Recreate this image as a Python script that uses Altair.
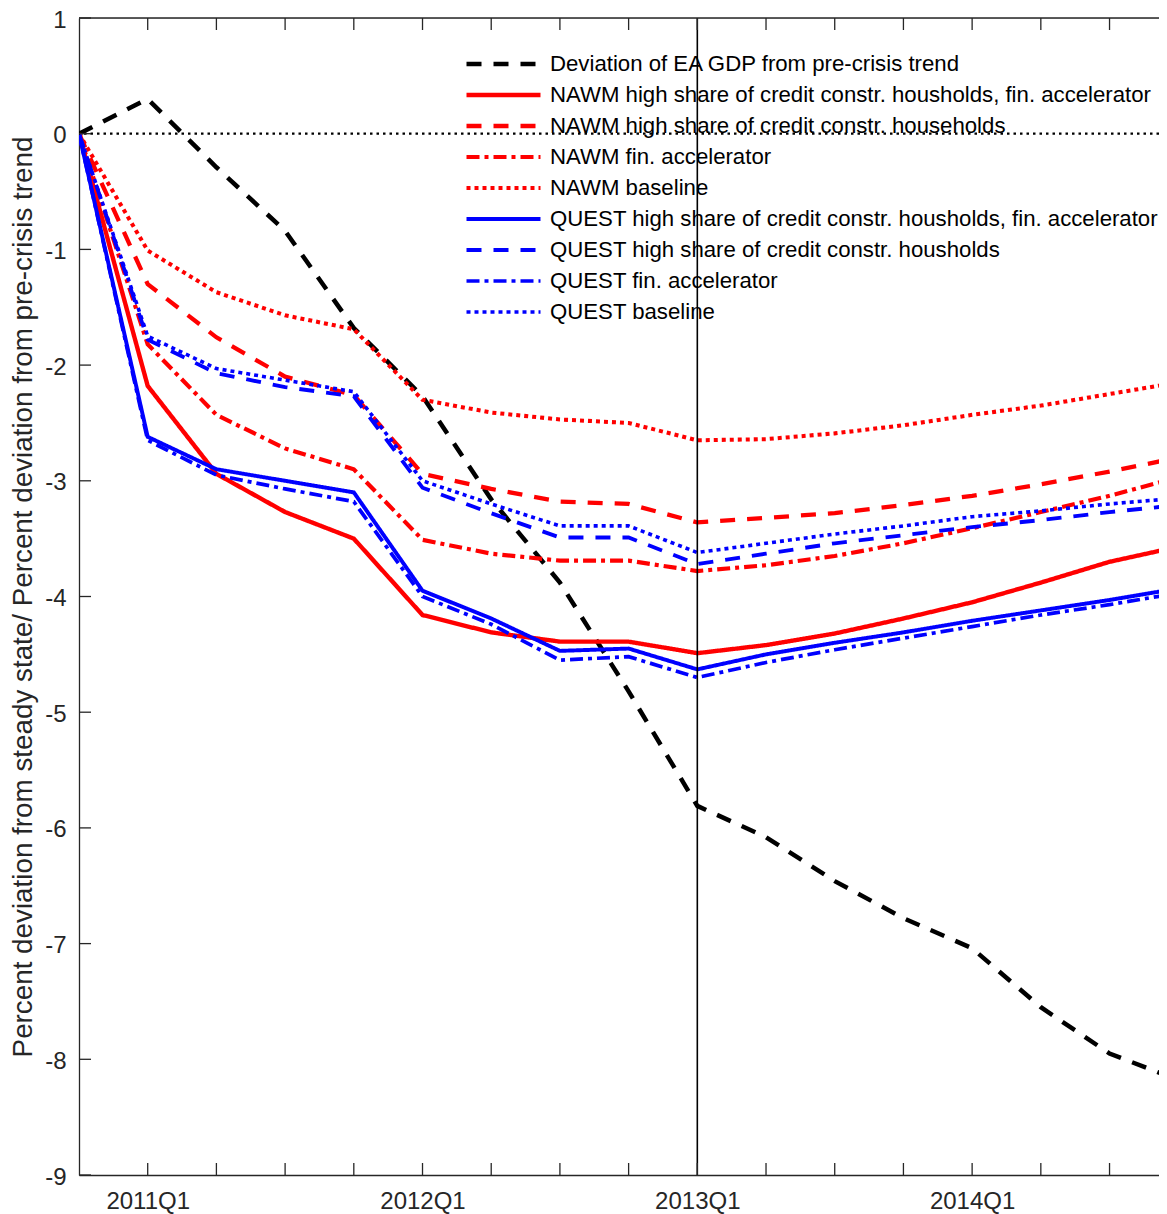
import altair as alt
import pandas as pd

# ---------------- data ----------------
quarters = list(range(17))  # 0 = 2010Q4 ... 16 = 2014Q4
label_pos = [1, 5, 9, 13]
label_text = ["2011Q1", "2012Q1", "2013Q1", "2014Q1"]
x_ticks = list(range(1, 16))
y_ticks = list(range(-9, 2))
vline_q = [9]
zero_v = [0]

series_names = [
    "Deviation of EA GDP from pre-crisis trend",
    "NAWM high share of credit constr. housholds, fin. accelerator",
    "NAWM high share of credit constr. households",
    "NAWM fin. accelerator",
    "NAWM baseline",
    "QUEST high share of credit constr. housholds, fin. accelerator",
    "QUEST high share of credit constr. housholds",
    "QUEST fin. accelerator",
    "QUEST baseline",
]

gdp_dev = [0, 0.30, -0.29, -0.84, -1.68, -2.27, -3.16, -3.88, -4.82, -5.81, -6.08, -6.46, -6.78, -7.04, -7.55, -7.95, -8.18]
nawm_high_fa = [0, -2.18, -2.94, -3.27, -3.50, -4.16, -4.31, -4.39, -4.39, -4.49, -4.42, -4.32, -4.19, -4.05, -3.88, -3.70, -3.57]
nawm_high = [0, -1.30, -1.76, -2.10, -2.26, -2.94, -3.07, -3.18, -3.20, -3.36, -3.32, -3.28, -3.21, -3.13, -3.03, -2.92, -2.80]
nawm_fa = [0, -1.82, -2.43, -2.72, -2.90, -3.51, -3.63, -3.69, -3.69, -3.78, -3.73, -3.65, -3.54, -3.41, -3.27, -3.13, -2.97]
nawm_base = [0, -1.01, -1.37, -1.57, -1.69, -2.30, -2.41, -2.47, -2.50, -2.65, -2.64, -2.59, -2.52, -2.43, -2.35, -2.25, -2.15]
quest_high_fa = [0, -2.62, -2.90, -3.00, -3.10, -3.95, -4.19, -4.47, -4.45, -4.63, -4.50, -4.40, -4.31, -4.21, -4.12, -4.03, -3.93]
quest_high = [0, -1.78, -2.07, -2.19, -2.27, -3.06, -3.28, -3.49, -3.49, -3.72, -3.63, -3.54, -3.47, -3.40, -3.34, -3.27, -3.21]
quest_fa = [0, -2.65, -2.95, -3.07, -3.18, -4.00, -4.24, -4.55, -4.52, -4.70, -4.57, -4.46, -4.36, -4.26, -4.16, -4.07, -3.97]
quest_base = [0, -1.75, -2.03, -2.13, -2.23, -3.00, -3.20, -3.39, -3.39, -3.62, -3.54, -3.46, -3.39, -3.31, -3.26, -3.20, -3.15]

series_values = [gdp_dev, nawm_high_fa, nawm_high, nawm_fa, nawm_base,
                 quest_high_fa, quest_high, quest_fa, quest_base]

# ---------------- styles ----------------
series_colors = ["#000000", "#FF0000", "#FF0000", "#FF0000", "#FF0000",
                 "#0000FF", "#0000FF", "#0000FF", "#0000FF"]
DASH, SOLID, DASHDOT, DOT = [15, 12], [1, 0], [13, 5, 4, 5], [4, 4]
series_dashes = [DASH, SOLID, DASH, DASHDOT, DOT, SOLID, DASH, DASHDOT, DOT]
series_widths = [4.5, 3.6, 3.6, 3.6, 3.6, 3.6, 3.6, 3.6, 3.6]

FONT = "Liberation Sans"
AX = "#262626"
W, H = 1080, 1157          # plot area (px)
X_MAX = 15.72              # visible part of the quarter axis (figure is cropped on the right)
TL = 12                    # tick length (inward)

rows = []
for name, vals in zip(series_names, series_values):
    for q, v in zip(quarters, vals):
        rows.append({"series": name, "q": q, "v": v})
df = pd.DataFrame(rows)

label_expr = " : ".join(
    f"datum.value == {p} ? '{t}'" for p, t in zip(label_pos, label_text)
) + " : ''"

xscale = alt.Scale(domain=[0, X_MAX], nice=False, zero=False)
yscale = alt.Scale(domain=[-9, 1], nice=False, zero=False)

x_axis = alt.Axis(values=label_pos, labelExpr=label_expr, ticks=False, domain=True,
                  domainColor=AX, domainWidth=1.3, grid=False,
                  labelFontSize=24, labelFont=FONT, labelColor=AX,
                  labelPadding=14, labelBaseline="top")
y_axis = alt.Axis(values=y_ticks, labelExpr="datum.value + ''", ticks=False, domain=True,
                  domainColor=AX, domainWidth=1.3, grid=False,
                  labelFontSize=24, labelFont=FONT, labelColor=AX, labelPadding=13,
                  labelOffset=2,
                  title="Percent deviation from steady state/ Percent deviation from pre-crisis trend",
                  titleFontSize=27.8, titleFont=FONT, titleColor=AX, titleFontWeight="normal",
                  titlePadding=7)

legend = alt.Legend(title=None, orient="none", legendX=385, legendY=34,
                    symbolType="stroke", symbolSize=5476, symbolStrokeWidth=3.6,
                    labelFontSize=22.2, labelFont=FONT, labelColor="#000000",
                    labelLimit=0, clipHeight=24, rowPadding=7, labelOffset=7,
                    padding=0)

lines = alt.Chart(df).mark_line(clip=True).encode(
    x=alt.X("q:Q", scale=xscale, axis=x_axis, title=None),
    y=alt.Y("v:Q", scale=yscale, axis=y_axis),
    color=alt.Color("series:N", scale=alt.Scale(domain=series_names, range=series_colors),
                    legend=legend, sort=series_names),
    strokeDash=alt.StrokeDash("series:N", scale=alt.Scale(domain=series_names, range=series_dashes),
                              legend=legend, sort=series_names),
    strokeWidth=alt.StrokeWidth("series:N", scale=alt.Scale(domain=series_names, range=series_widths),
                                legend=None),
)

zero_line = alt.Chart(pd.DataFrame({"v": zero_v})).mark_rule(
    color="#000000", strokeDash=[2.5, 4], strokeWidth=2.2
).encode(y=alt.Y("v:Q", scale=yscale))

vline = alt.Chart(pd.DataFrame({"q": vline_q})).mark_rule(
    color="#000000", strokeWidth=1.6
).encode(x=alt.X("q:Q", scale=xscale))

xt = pd.DataFrame({"q": x_ticks})
yt = pd.DataFrame({"v": y_ticks})
tick_style = dict(color=AX, strokeWidth=1.3)
top_ticks = alt.Chart(xt).mark_rule(**tick_style).encode(
    x=alt.X("q:Q", scale=xscale), y=alt.value(0), y2=alt.value(TL))
bot_ticks = alt.Chart(xt).mark_rule(**tick_style).encode(
    x=alt.X("q:Q", scale=xscale), y=alt.value(H), y2=alt.value(H - TL))
left_ticks = alt.Chart(yt).mark_rule(**tick_style).encode(
    y=alt.Y("v:Q", scale=yscale), x=alt.value(0), x2=alt.value(TL))
# top frame line of the box (right side is cropped in the original figure)
top_frame = alt.Chart(pd.DataFrame({"v": [1]})).mark_rule(**tick_style).encode(
    y=alt.Y("v:Q", scale=yscale), x=alt.value(0), x2=alt.value(W))

chart = alt.layer(
    lines, zero_line, vline, top_ticks, bot_ticks, left_ticks, top_frame
).properties(
    width=W, height=H,
    autosize=alt.AutoSizeParams(type="none"),
    padding={"left": 71, "top": 10, "right": 0, "bottom": 39},
).configure_view(
    stroke=None
).configure(background="white")

chart.save("out.html", embed_options={"renderer": "svg", "actions": False})
